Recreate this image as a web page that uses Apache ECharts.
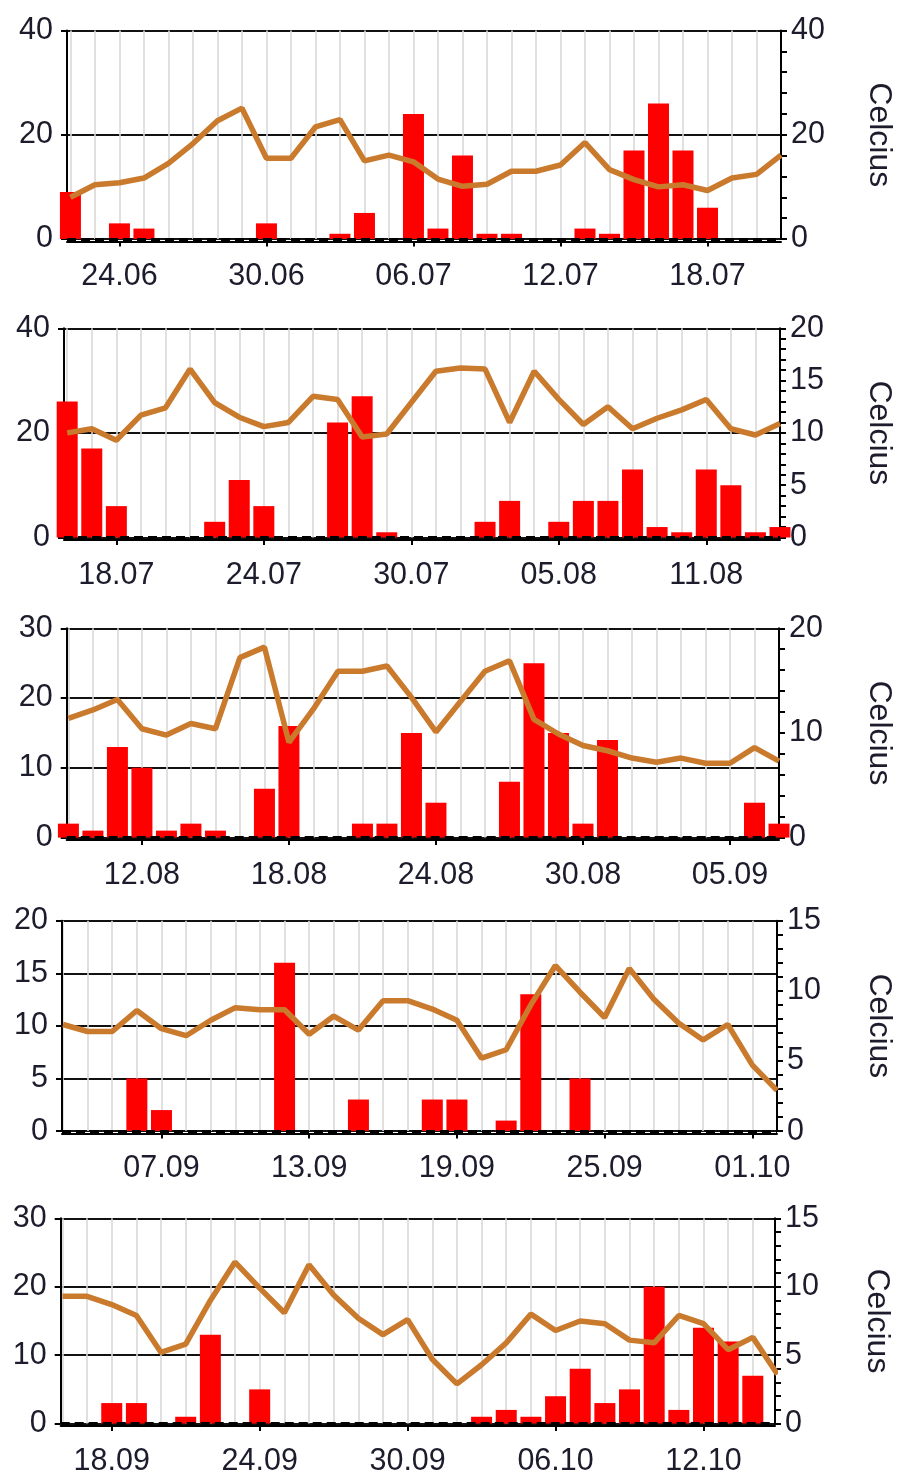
<!DOCTYPE html>
<html>
<head>
<meta charset="utf-8">
<title>Rain and temperature</title>
<script src="https://cdn.jsdelivr.net/npm/echarts@6.0.0/dist/echarts.min.js"></script>
<style>
  html, body { margin: 0; padding: 0; background: #ffffff; }
  #chart { width: 903px; height: 1477px; }
</style>
</head>
<body>
<div id="chart"></div>
<script>
// ---- Period 1: 22.06 - 21.07 ----
const p1Dates = ['22.06','23.06','24.06','25.06','26.06','27.06','28.06','29.06','30.06',
  '01.07','02.07','03.07','04.07','05.07','06.07','07.07','08.07','09.07','10.07','11.07',
  '12.07','13.07','14.07','15.07','16.07','17.07','18.07','19.07','20.07','21.07'];
const p1Rain = [9, 0, 3, 2, 0, 0, 0, 0, 3, 0, 0, 1, 5, 0, 24, 2, 16, 1, 1, 0,
  0, 2, 1, 17, 26, 17, 6, 0, 0, 0];
const p1Temp = [8.0, 10.4, 10.8, 11.7, 14.5, 18.3, 22.7, 25.1, 15.5, 15.5, 21.5, 22.9, 15.0, 16.1, 14.8,
  11.5, 10.1, 10.5, 13.0, 13.0, 14.2, 18.5, 13.3, 11.4, 10.0, 10.4, 9.3, 11.7, 12.4, 16.1];
const p1Ticks = ['24.06', '30.06', '06.07', '12.07', '18.07'];

// ---- Period 2: 16.07 - 14.08 ----
const p2Dates = ['16.07','17.07','18.07','19.07','20.07','21.07','22.07','23.07','24.07','25.07',
  '26.07','27.07','28.07','29.07','30.07','31.07','01.08','02.08','03.08','04.08',
  '05.08','06.08','07.08','08.08','09.08','10.08','11.08','12.08','13.08','14.08'];
const p2Rain = [26, 17, 6, 0, 0, 0, 3, 11, 6, 0, 0, 22, 27, 1, 0, 0, 0, 3, 7, 0,
  3, 7, 7, 13, 2, 1, 13, 10, 1, 2];
const p2Temp = [10.0, 10.4, 9.3, 11.7, 12.4, 16.1, 12.9, 11.5, 10.6, 11.0, 13.5, 13.2, 9.6, 9.9, 12.9,
  15.9, 16.2, 16.1, 11.0, 15.9, 13.2, 10.8, 12.5, 10.4, 11.4, 12.2, 13.2, 10.4, 9.8, 10.9];
const p2Ticks = ['18.07', '24.07', '30.07', '05.08', '11.08'];

// ---- Period 3: 09.08 - 07.09 ----
const p3Dates = ['09.08','10.08','11.08','12.08','13.08','14.08','15.08','16.08','17.08','18.08',
  '19.08','20.08','21.08','22.08','23.08','24.08','25.08','26.08','27.08','28.08',
  '29.08','30.08','31.08','01.09','02.09','03.09','04.09','05.09','06.09','07.09'];
const p3Rain = [2, 1, 13, 10, 1, 2, 1, 0, 7, 16, 0, 0, 2, 2, 15, 5, 0, 0, 8, 25,
  15, 2, 14, 0, 0, 0, 0, 0, 5, 2];
const p3Temp = [11.4, 12.2, 13.2, 10.4, 9.8, 10.9, 10.4, 17.2, 18.2, 9.1, 12.3, 15.9, 15.9, 16.4, 13.4,
  10.1, 13.0, 15.9, 16.9, 11.3, 9.9, 8.8, 8.3, 7.6, 7.2, 7.6, 7.1, 7.1, 8.6, 7.3];
const p3Ticks = ['12.08', '18.08', '24.08', '30.08', '05.09'];

// ---- Period 4: 03.09 - 02.10 ----
const p4Dates = ['03.09','04.09','05.09','06.09','07.09','08.09','09.09','10.09','11.09','12.09',
  '13.09','14.09','15.09','16.09','17.09','18.09','19.09','20.09','21.09','22.09',
  '23.09','24.09','25.09','26.09','27.09','28.09','29.09','30.09','01.10','02.10'];
const p4Rain = [0, 0, 0, 5, 2, 0, 0, 0, 0, 16, 0, 0, 3, 0, 0, 3, 3, 0, 1, 13,
  0, 5, 0, 0, 0, 0, 0, 0, 0, 0];
const p4Temp = [7.6, 7.1, 7.1, 8.6, 7.3, 6.8, 7.9, 8.8, 8.65, 8.65, 6.9, 8.2, 7.2, 9.3, 9.3,
  8.7, 7.9, 5.2, 5.8, 9.0, 11.8, 9.9, 8.1, 11.6, 9.4, 7.7, 6.5, 7.6, 4.7, 2.9];
const p4Ticks = ['07.09', '13.09', '19.09', '25.09', '01.10'];

// ---- Period 5: 16.09 - 15.10 ----
const p5Dates = ['16.09','17.09','18.09','19.09','20.09','21.09','22.09','23.09','24.09','25.09',
  '26.09','27.09','28.09','29.09','30.09','01.10','02.10','03.10','04.10','05.10',
  '06.10','07.10','08.10','09.10','10.10','11.10','12.10','13.10','14.10','15.10'];
const p5Rain = [0, 0, 3, 3, 0, 1, 13, 0, 5, 0, 0, 0, 0, 0, 0, 0, 0, 1, 2, 1,
  4, 8, 3, 5, 20, 2, 14, 12, 7, 0];
const p5Temp = [9.3, 9.3, 8.7, 7.9, 5.2, 5.8, 9.0, 11.8, 9.9, 8.1, 11.6, 9.4, 7.7, 6.5, 7.6,
  4.7, 2.9, 4.3, 5.9, 8.0, 6.8, 7.5, 7.3, 6.1, 5.9, 7.9, 7.3, 5.4, 6.3, 3.6];
const p5Ticks = ['18.09', '24.09', '30.09', '06.10', '12.10'];

// Left (rain) axis: [max, interval]
const rainScale = [[40, 20], [40, 20], [30, 10], [20, 5], [30, 10]];
// Right (Celcius) axis: [max, tick step, labelled step]
const tempScale = [[40, 4, 20], [20, 1, 5], [20, 2, 10], [15, 1, 5], [15, 1, 5]];

const panels = [
  { dates: p1Dates, rain: p1Rain, temp: p1Temp, ticks: p1Ticks },
  { dates: p2Dates, rain: p2Rain, temp: p2Temp, ticks: p2Ticks },
  { dates: p3Dates, rain: p3Rain, temp: p3Temp, ticks: p3Ticks },
  { dates: p4Dates, rain: p4Rain, temp: p4Temp, ticks: p4Ticks },
  { dates: p5Dates, rain: p5Rain, temp: p5Temp, ticks: p5Ticks }
];

// Plot rectangles (bottom edge = zero level), day-axis extents, and the
// small drop of the date axis line below the zero level
const layout = [
  { left: 67,   top: 30.5,   width: 718,   height: 208.5, xMin: -0.14, xMax: 29,   drop: 2.5, nameGap: 82 },
  { left: 64,   top: 328.3,  width: 720.3, height: 209.2, xMin: -0.13, xMax: 29,   drop: 2.6, nameGap: 83 },
  { left: 66.7, top: 628.3,  width: 716.6, height: 209.3, xMin: -0.07, xMax: 29,   drop: 2.5, nameGap: 84 },
  { left: 62,   top: 920.7,  width: 719.7, height: 210.4, xMin: -0.04, xMax: 29,   drop: 2.3, nameGap: 86 },
  { left: 60.7, top: 1218.3, width: 714.3, height: 208.4, xMin: -0.07, xMax: 28.9, drop: 2.4, nameGap: 86 }
];

const FONT = "'Liberation Sans', Arial, sans-serif";
const TEXT = '#1c1c2c';
const labelStyle = { fontFamily: FONT, fontSize: 30.5, color: TEXT };

const grid = [], xAxis = [], yAxis = [], series = [];

panels.forEach((p, i) => {
  const L = layout[i];
  const dayIdx = p.dates.map((_, k) => k);
  const tickIdx = p.ticks.map(t => p.dates.indexOf(t));
  const [tMax, tStep, tLabelStep] = tempScale[i];

  grid.push({ left: L.left, top: L.top, width: L.width, height: L.height, containLabel: false });

  // day axis: carries the daily vertical gridlines
  xAxis.push({
    type: 'value', gridIndex: i, min: L.xMin, max: L.xMax, offset: L.drop,
    axisLine: { show: true, onZero: false, lineStyle: { color: '#000', width: 2 } },
    axisTick: { show: false, customValues: dayIdx },
    axisLabel: { show: false },
    splitLine: { show: true, lineStyle: { color: '#d9d9d9', width: 1.6 } }
  });
  // labelled dates every sixth day
  xAxis.push({
    type: 'value', gridIndex: i, min: L.xMin, max: L.xMax, position: 'bottom', offset: L.drop,
    axisLine: { show: false, onZero: false },
    axisTick: { show: true, customValues: tickIdx, length: 5, lineStyle: { color: '#000', width: 2 } },
    axisLabel: Object.assign({ customValues: tickIdx, margin: 20,
      formatter: v => p.dates[Math.round(v)] }, labelStyle),
    splitLine: { show: false }
  });

  yAxis.push({
    type: 'value', gridIndex: i, position: 'left', min: 0,
    max: rainScale[i][0], interval: rainScale[i][1],
    axisLine: { show: true, onZero: false, lineStyle: { color: '#000', width: 2 } },
    axisTick: { show: true, length: 6, lineStyle: { color: '#000', width: 2 } },
    axisLabel: Object.assign({ margin: 14 }, labelStyle),
    splitLine: { show: true, lineStyle: { color: '#111', width: 2 } }
  });
  yAxis.push({
    type: 'value', gridIndex: i, position: 'right', min: 0,
    max: tMax, interval: tStep,
    axisLine: { show: true, onZero: false, lineStyle: { color: '#000', width: 2 } },
    axisTick: { show: true, length: 6, lineStyle: { color: '#000', width: 2 } },
    axisLabel: Object.assign({ margin: 10,
      formatter: v => (Math.round(v) % tLabelStep === 0 ? String(Math.round(v)) : '') }, labelStyle),
    splitLine: { show: false },
    name: 'Celcius', nameLocation: 'middle', nameRotate: -90, nameGap: L.nameGap,
    nameTextStyle: { fontFamily: FONT, fontSize: 32, color: TEXT }
  });

  series.push({
    type: 'bar', name: 'rain', xAxisIndex: 2 * i, yAxisIndex: 2 * i,
    data: p.rain.map((v, k) => [k, v]),
    barWidth: 21,
    itemStyle: { color: '#ff0000' },
    z: 2,
    markLine: {
      silent: true, symbol: 'none', animation: false,
      label: { show: false },
      lineStyle: { color: '#000', width: 3, type: [9, 5] },
      data: [{ yAxis: 0 }]
    }
  });
  series.push({
    type: 'line', name: 'Celcius', xAxisIndex: 2 * i, yAxisIndex: 2 * i + 1,
    data: p.temp.map((v, k) => [k, v]),
    symbol: 'none',
    lineStyle: { color: '#c97a2c', width: 5.5 },
    z: 3
  });
});

const chart = echarts.init(document.getElementById('chart'), null, { renderer: 'canvas' });
chart.setOption({
  backgroundColor: '#ffffff',
  animation: false,
  grid, xAxis, yAxis, series
});
</script>
</body>
</html>
